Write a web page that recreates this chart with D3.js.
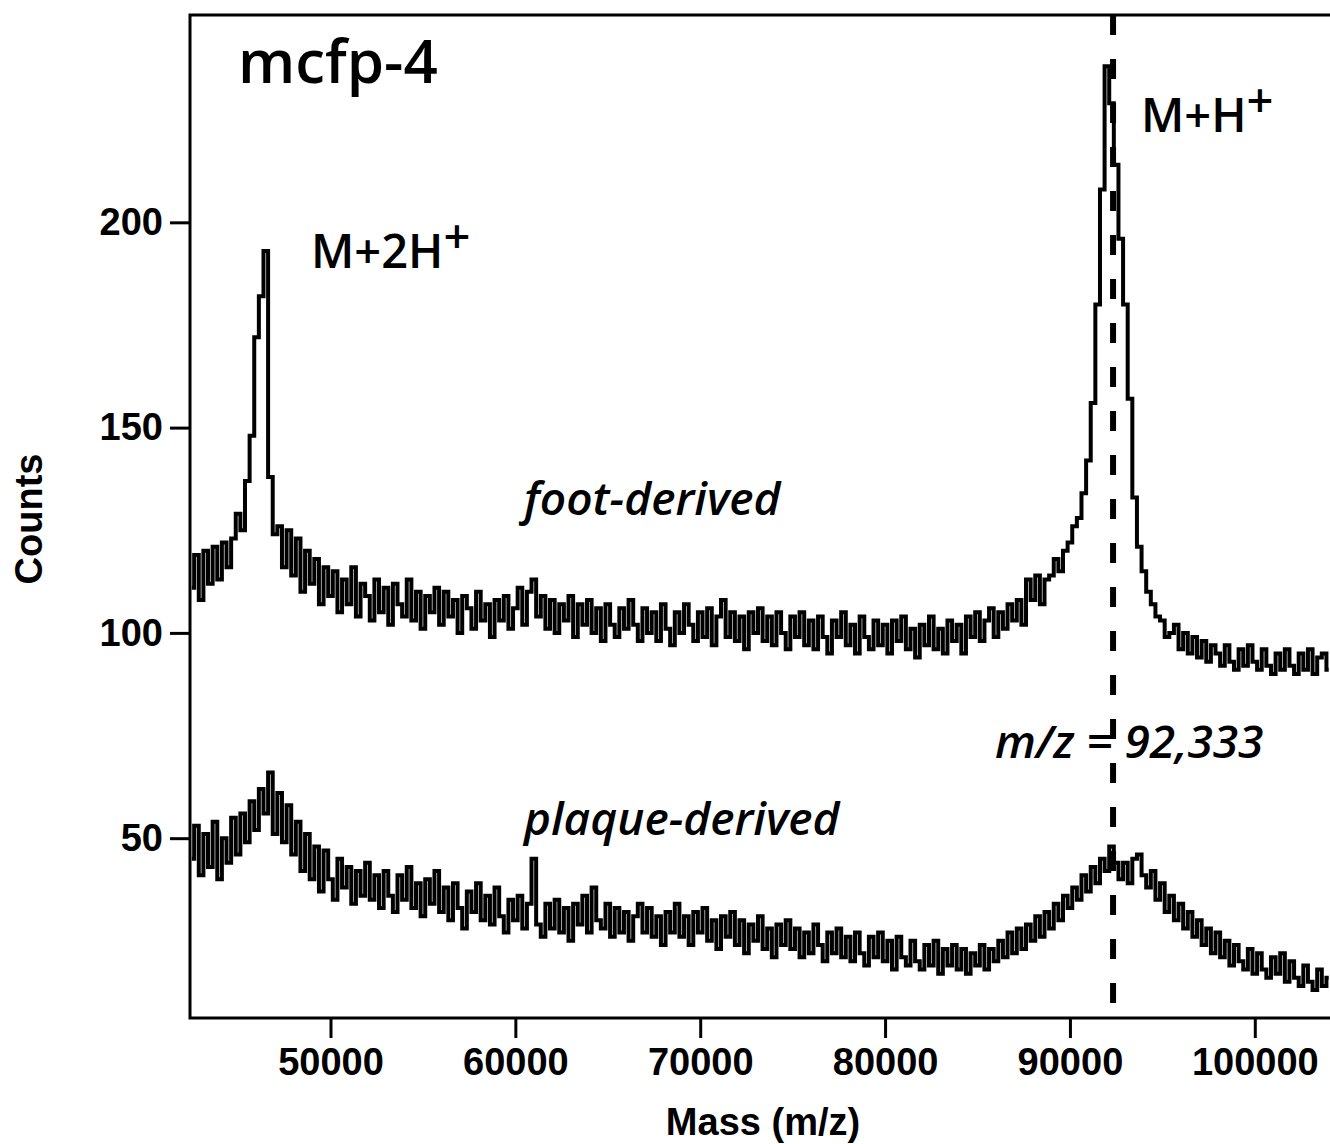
<!DOCTYPE html>
<html>
<head>
<meta charset="utf-8">
<script src="https://cdnjs.cloudflare.com/ajax/libs/d3/7.8.5/d3.min.js"></script>
<style>
  body { margin: 0; background: #fff; }
  svg { display: block; }
</style>
</head>
<body>
<div class="chart"></div>
<script>
// spectra sampled every 250 Da starting at 42500
var massStart = 42500;
var massStep = 250;

var footCounts = [
  111,119,108,120,112,121,113,122,116,123,
  129,125,137,148,172,182,193,138,124,126,
  116,125,114,123,110,120,112,118,107,116,
  109,115,105,113,107,116,104,112,109,103,
  113,105,111,102,112,107,104,113,103,110,
  101,109,105,111,102,110,104,108,100,109,
  106,101,110,103,107,99,108,103,109,101,
  106,111,102,110,113,104,109,101,108,100,
  107,103,109,99,107,102,108,100,106,98,
  107,102,99,106,101,108,102,98,106,100,
  105,98,107,101,97,105,100,107,102,98,
  105,99,106,97,104,108,99,105,98,104,
  96,105,100,106,98,104,97,105,100,96,
  104,99,105,97,103,96,104,99,95,103,
  99,105,97,102,95,104,99,96,103,97,
  102,95,103,98,104,96,101,94,102,97,
  104,96,101,95,103,98,102,95,104,99,
  105,98,103,106,99,105,101,107,103,108,
  102,113,108,114,107,113,114,118,115,120,
  122,126,128,134,142,156,180,208,238,229,
  214,196,180,157,133,121,115,110,107,104,
  103,99,100,102,96,100,95,99,94,98,
  93,97,95,92,97,93,91,96,92,97,
  93,91,96,92,90,95,91,96,92,90,
  95,91,96,90,94,95,91
];

var plaqueCounts = [
  45,53,41,51,43,54,40,50,44,55,
  46,56,49,59,52,62,56,66,51,61,
  49,58,46,54,42,51,40,48,37,47,
  40,35,45,38,43,34,42,36,44,35,
  41,33,42,36,32,41,35,43,33,39,
  31,40,34,42,32,38,30,39,33,28,
  37,32,39,30,36,29,38,31,27,35,
  30,36,28,34,45,29,26,34,28,35,
  27,33,25,34,29,36,27,38,30,28,
  34,26,33,27,32,25,31,34,27,33,
  26,31,24,32,27,34,26,31,24,32,
  27,33,25,30,23,31,26,32,24,30,
  22,29,25,31,23,28,21,29,24,30,
  23,28,21,27,22,29,24,20,27,22,
  28,21,26,20,27,22,19,26,21,27,
  20,25,18,26,21,19,25,20,18,24,
  19,25,17,23,19,24,18,23,17,22,
  19,24,18,23,20,25,21,27,22,28,
  23,29,25,31,26,32,28,34,30,36,
  33,38,35,41,37,43,39,45,42,48,
  44,40,44,39,45,46,41,38,42,35,
  39,32,36,30,34,28,32,26,30,24,
  28,22,27,21,25,19,24,20,18,23,
  17,22,18,16,21,17,22,15,20,16,
  14,19,15,13,18,14,16
];

var xTicks = [50000, 60000, 70000, 80000, 90000, 100000];
var yTicks = [50, 100, 150, 200];
var markerMass = 92333;

var W = 1330, H = 1144;
var margin = { top: 15, left: 190, bottom: 126 };
var plotRight = 1333;

var svg = d3.select('.chart')
  .append('svg')
    .attr('width', W)
    .attr('height', H);

svg.append('rect').attr('width', W).attr('height', H).attr('fill', '#fff');

var xScale = d3.scaleLinear()
  .domain([42400, 42400 + (plotRight - margin.left) / 0.018486])
  .range([margin.left, plotRight]);

var yScale = d3.scaleLinear()
  .domain([6.2, 250.5])
  .range([H - margin.bottom, margin.top]);

svg.append('clipPath').attr('id', 'plot')
  .append('rect')
    .attr('x', margin.left)
    .attr('y', margin.top)
    .attr('width', plotRight - margin.left)
    .attr('height', H - margin.bottom - margin.top);

var line = d3.line()
  .x((d, i) => xScale(massStart + i * massStep))
  .y(d => yScale(d))
  .curve(d3.curveStep);

var traces = svg.append('g').attr('clip-path', 'url(#plot)');

[footCounts, plaqueCounts].forEach(series => {
  traces.append('path')
    .datum(series)
    .attr('d', line)
    .attr('fill', 'none')
    .attr('stroke', '#000')
    .attr('stroke-width', 4);
});

// frame
svg.append('rect')
  .attr('x', margin.left)
  .attr('y', margin.top)
  .attr('width', plotRight + 5 - margin.left)
  .attr('height', H - margin.bottom - margin.top)
  .attr('fill', 'none')
  .attr('stroke', '#000')
  .attr('stroke-width', 3);

var tickFont = 'bold 38px "Liberation Sans", Arial, sans-serif';

var yAxis = d3.axisLeft(yScale).tickValues(yTicks).tickSize(20).tickPadding(7).tickSizeOuter(0);
var xAxis = d3.axisBottom(xScale).tickValues(xTicks).tickSize(20).tickPadding(10).tickSizeOuter(0)
  .tickFormat(d3.format('d'));

svg.append('g')
    .attr('transform', `translate(${margin.left}, 0)`)
  .call(yAxis)
  .call(g => g.select('.domain').remove())
  .call(g => g.selectAll('line').attr('stroke-width', 3))
  .call(g => g.selectAll('text').style('font', tickFont).attr('fill', '#000'));

svg.append('g')
    .attr('transform', `translate(0, ${H - margin.bottom})`)
  .call(xAxis)
  .call(g => g.select('.domain').remove())
  .call(g => g.selectAll('line').attr('stroke-width', 3))
  .call(g => g.selectAll('text').style('font', tickFont).attr('fill', '#000'));

svg.append('text')
  .attr('x', 763).attr('y', 1135)
  .attr('text-anchor', 'middle')
  .style('font', tickFont)
  .text('Mass (m/z)');

svg.append('text')
  .attr('transform', 'translate(42, 519) rotate(-90)')
  .attr('text-anchor', 'middle')
  .style('font', tickFont)
  .text('Counts');

// marker line
svg.append('line')
  .attr('x1', xScale(markerMass)).attr('x2', xScale(markerMass))
  .attr('y1', margin.top).attr('y2', H - margin.bottom)
  .attr('stroke', '#000')
  .attr('stroke-width', 6)
  .attr('stroke-dasharray', '20,24');

// labels
var labelFont = '"Open Sans", "Noto Sans", sans-serif';

svg.append('text')
  .attr('x', 238).attr('y', 83)
  .style('font-family', labelFont).style('font-size', '60px').style('font-weight', 600)
  .text('mcfp-4');

function ionLabel(x, y, base) {
  var t = svg.append('text')
    .attr('x', x).attr('y', y)
    .style('font-family', labelFont).style('font-size', '47px').style('font-weight', 600);
  t.append('tspan').text(base);
  t.append('tspan').attr('dy', -15).text('+');
}
ionLabel(311, 268, 'M+2H');
ionLabel(1141, 132, 'M+H');

function italicLabel(x, y, s) {
  svg.append('text')
    .attr('x', x).attr('y', y)
    .style('font-family', labelFont).style('font-size', '46px')
    .style('font-style', 'italic').style('font-weight', 600)
    .text(s);
}
italicLabel(524, 515, 'foot-derived');
italicLabel(524, 835, 'plaque-derived');
italicLabel(995, 758, 'm/z = 92,333');
</script>
</body>
</html>
